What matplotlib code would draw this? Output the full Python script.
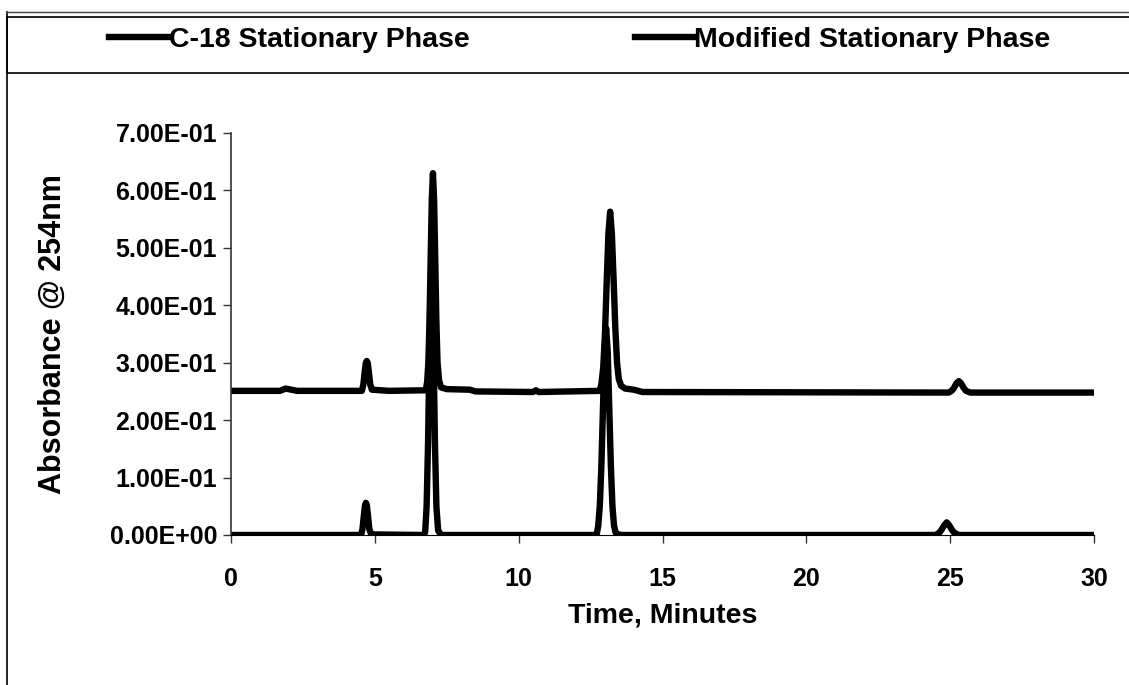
import matplotlib
matplotlib.use('Agg')
import matplotlib.pyplot as plt
from matplotlib.lines import Line2D
from matplotlib.patches import Rectangle
from matplotlib.ticker import FuncFormatter

# ── DATA ──────────────────────────────────────────────────────
c18_time = [0, 4.52, 4.57, 4.62, 4.66, 4.69, 4.72, 4.76, 4.81, 4.87, 4.95,
            6.7, 6.75, 6.8, 6.85, 6.89, 6.93, 6.97, 7.01, 7.05, 7.09, 7.14, 7.2, 7.3,
            12.71, 12.765, 12.82, 12.875, 12.93, 12.985, 13.04, 13.095, 13.15, 13.205,
            13.26, 13.315, 13.37, 13.47, 13.6,
            24.5, 24.62, 24.7, 24.78, 24.88, 24.98, 25.06, 25.14, 25.3, 30]
c18_abs = [0.0, 0.0, 0.01, 0.035, 0.052, 0.056, 0.052, 0.035, 0.01, 0.002, 0.001,
           0.0, 0.005, 0.05, 0.16, 0.29, 0.42, 0.48, 0.42, 0.29, 0.16, 0.05, 0.008, 0.0,
           0.0, 0.016, 0.05, 0.12, 0.22, 0.32, 0.36, 0.32, 0.22, 0.12,
           0.05, 0.016, 0.004, 0.001, 0.0,
           0.0, 0.004, 0.009, 0.016, 0.022, 0.016, 0.009, 0.004, 0.0, 0.0]

mod_time = [0, 1.7, 1.9, 2.1, 2.3, 4.55, 4.6, 4.65, 4.69, 4.72, 4.75, 4.79, 4.84, 4.9,
            5.5, 6.77, 6.82, 6.86, 6.9, 6.94, 6.98, 7.02, 7.06, 7.1, 7.14, 7.18, 7.23,
            7.3, 7.5, 8.3, 8.5, 10.5, 10.6, 10.7,
            12.82, 12.88, 12.94, 13.0, 13.06, 13.12, 13.18, 13.24, 13.3, 13.36, 13.42,
            13.48, 13.56, 13.7, 14.0, 14.3,
            24.95, 25.05, 25.13, 25.22, 25.3, 25.38, 25.47, 25.55, 25.7, 30]
mod_abs = [0.251, 0.251, 0.255, 0.253, 0.251, 0.251, 0.262, 0.285, 0.3, 0.303, 0.3, 0.285,
           0.262, 0.253,
           0.251, 0.252, 0.267, 0.30, 0.37, 0.48, 0.584, 0.63, 0.584, 0.48, 0.37, 0.30,
           0.27, 0.257, 0.254, 0.253, 0.25, 0.249, 0.252, 0.249,
           0.251, 0.264, 0.292, 0.35, 0.44, 0.525, 0.563, 0.525, 0.445, 0.36, 0.30,
           0.272, 0.26, 0.255, 0.253, 0.249,
           0.248, 0.251, 0.256, 0.264, 0.268, 0.264, 0.256, 0.251, 0.248, 0.248]

series_names = ['C-18 Stationary Phase', 'Modified Stationary Phase']
x_ticks = [0, 5, 10, 15, 20, 25, 30]
y_ticks = [0.0, 0.1, 0.2, 0.3, 0.4, 0.5, 0.6, 0.7]

# ── STYLE ─────────────────────────────────────────────────────
plt.rcParams['font.family'] = ['Liberation Sans', 'DejaVu Sans']
plt.rcParams['font.weight'] = 'bold'

W, H = 1129, 685
fig = plt.figure(figsize=(W / 100, H / 100), dpi=100)
ax = fig.add_axes([231 / W, 1 - 535 / H, (1094 - 231) / W, (535 - 133) / H])

lw = 4.6
for t, a in [(c18_time, c18_abs), (mod_time, mod_abs)]:
    ax.plot(t, a, color='black', lw=lw, solid_joinstyle='round', solid_capstyle='butt')

ax.set_xlim(0, 30)
ax.set_ylim(0, 0.7)
ax.set_xticks(x_ticks)
ax.set_yticks(y_ticks)
ax.yaxis.set_major_formatter(FuncFormatter(lambda v, _: f'{v:.2E}'))
ax.tick_params(direction='out', length=6, width=1, colors='#333333', labelcolor='black',
               labelsize=18, pad=4)
ax.tick_params(axis='x', pad=17)
for s in ['top', 'right']:
    ax.spines[s].set_visible(False)
ax.spines['left'].set_linewidth(1.2)
ax.spines['left'].set_color('#333333')
ax.spines['bottom'].set_linewidth(0.8)

ax.set_xlabel('Time, Minutes', fontsize=20.5, fontweight='bold', labelpad=8)
ax.set_ylabel('Absorbance @ 254nm', fontsize=22, fontweight='bold', labelpad=30)

# ── FRAME + LEGEND BOX ────────────────────────────────────────
fig.add_artist(Line2D([7 / W, 7 / W], [0, 1 - 12 / H], transform=fig.transFigure,
                      color='black', lw=1.2))
fig.add_artist(Line2D([7 / W, 1], [1 - 12 / H, 1 - 12 / H], transform=fig.transFigure,
                      color='#444444', lw=1.0))
fig.add_artist(Rectangle((7 / W, 1 - 73 / H), 1.0, (73 - 17) / H, transform=fig.transFigure,
                         fill=False, edgecolor='black', lw=1.2))

handles = [Line2D([], [], color='black', lw=lw) for _ in series_names]
fig.legend(handles, series_names, loc='center left', bbox_to_anchor=(109 / W, 1 - 40 / H),
           ncol=2, frameon=False, fontsize=20.5, handlelength=2.1, handletextpad=0.0,
           columnspacing=5.8, borderaxespad=0, borderpad=0)

plt.savefig('out.png', dpi=100)
